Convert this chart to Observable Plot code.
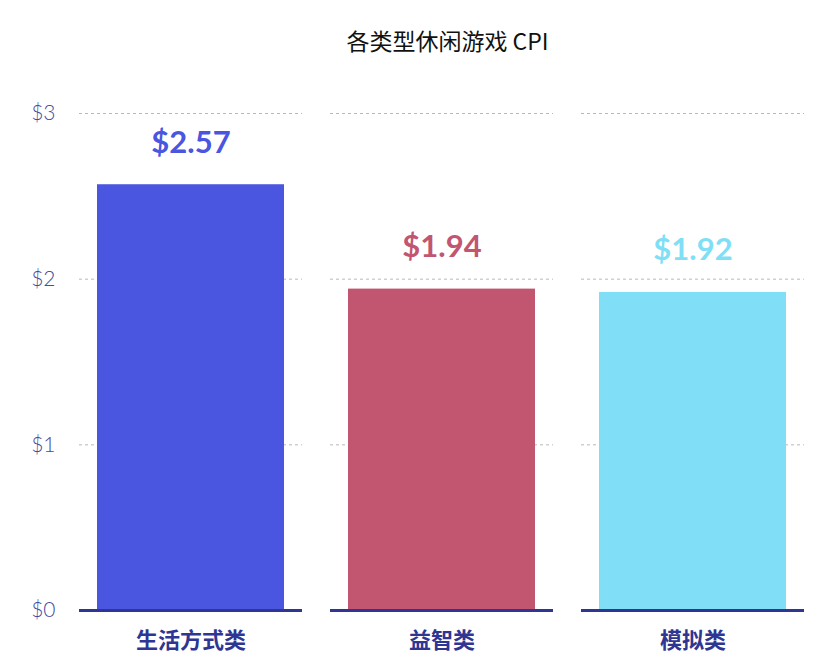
<!DOCTYPE html>
<html>
<head>
<meta charset="utf-8">
<script src="https://cdn.jsdelivr.net/npm/d3@7"></script>
<script src="https://cdn.jsdelivr.net/npm/@observablehq/plot@0.6"></script>
<style>
body { margin: 0; background: #fff; font-family: "Noto Sans CJK SC", Lato, sans-serif; }
#title { height: 70px; width: 819px; box-sizing: border-box; padding-left: 76px; text-align: center; font-size: 23px; line-height: 80px; color: #111; font-family: "Noto Sans CJK SC", "DejaVu Sans", sans-serif; }
</style>
</head>
<body>
<div id="title">各类型休闲游戏 CPI</div>
<div id="chart"></div>
<script>
const categories = ["生活方式类", "益智类", "模拟类"];
const values = [2.57, 1.94, 1.92];
const colors = ["#4a55e0", "#c25671", "#80dff6"];
const yTicks = [0, 1, 2, 3];

const data = categories.map((c, i) => ({category: c, value: values[i], color: colors[i]}));
const grid = categories.flatMap(c => yTicks.filter(t => t > 0).map(t => ({category: c, t})));

const chart = Plot.plot({
  width: 819,
  height: 601,
  marginLeft: 78,
  marginRight: 14,
  marginTop: 43,
  marginBottom: 61,
  style: {fontFamily: "Lato, sans-serif", background: "#fff"},
  x: {type: "band", domain: categories, paddingInner: 0.112, paddingOuter: 0, label: null, axis: null},
  y: {domain: [0, 3], label: null, axis: null},
  marks: [
    Plot.tickY(grid, {x: "category", y: "t", stroke: "#b8b8b8", strokeWidth: 1, strokeDasharray: "3,3"}),
    Plot.barY(data, {x: "category", y: "value", fill: "color", insetLeft: 18, insetRight: 18}),
    Plot.tickY(categories, {x: d => d, y: () => 0, stroke: "#2e3592", strokeWidth: 3}),
    Plot.text(data, {x: "category", y: "value", text: d => "$" + d.value.toFixed(2), fill: "color", dy: -42, fontSize: 31, fontWeight: "bold", fontFamily: "Lato, sans-serif"}),
    Plot.axisY(yTicks, {tickSize: 0, tickPadding: 23, tickFormat: d => "$" + d, fontSize: 21, fontWeight: 300, fill: "#464b9a", fontFamily: "Lato, sans-serif"}),
    Plot.axisX({tickSize: 0, tickPadding: 22, fontSize: 22, fontWeight: "bold", fill: "#2e3592", fontFamily: "'Noto Sans CJK SC', sans-serif"})
  ]
});
document.getElementById("chart").appendChild(chart);
</script>
</body>
</html>
